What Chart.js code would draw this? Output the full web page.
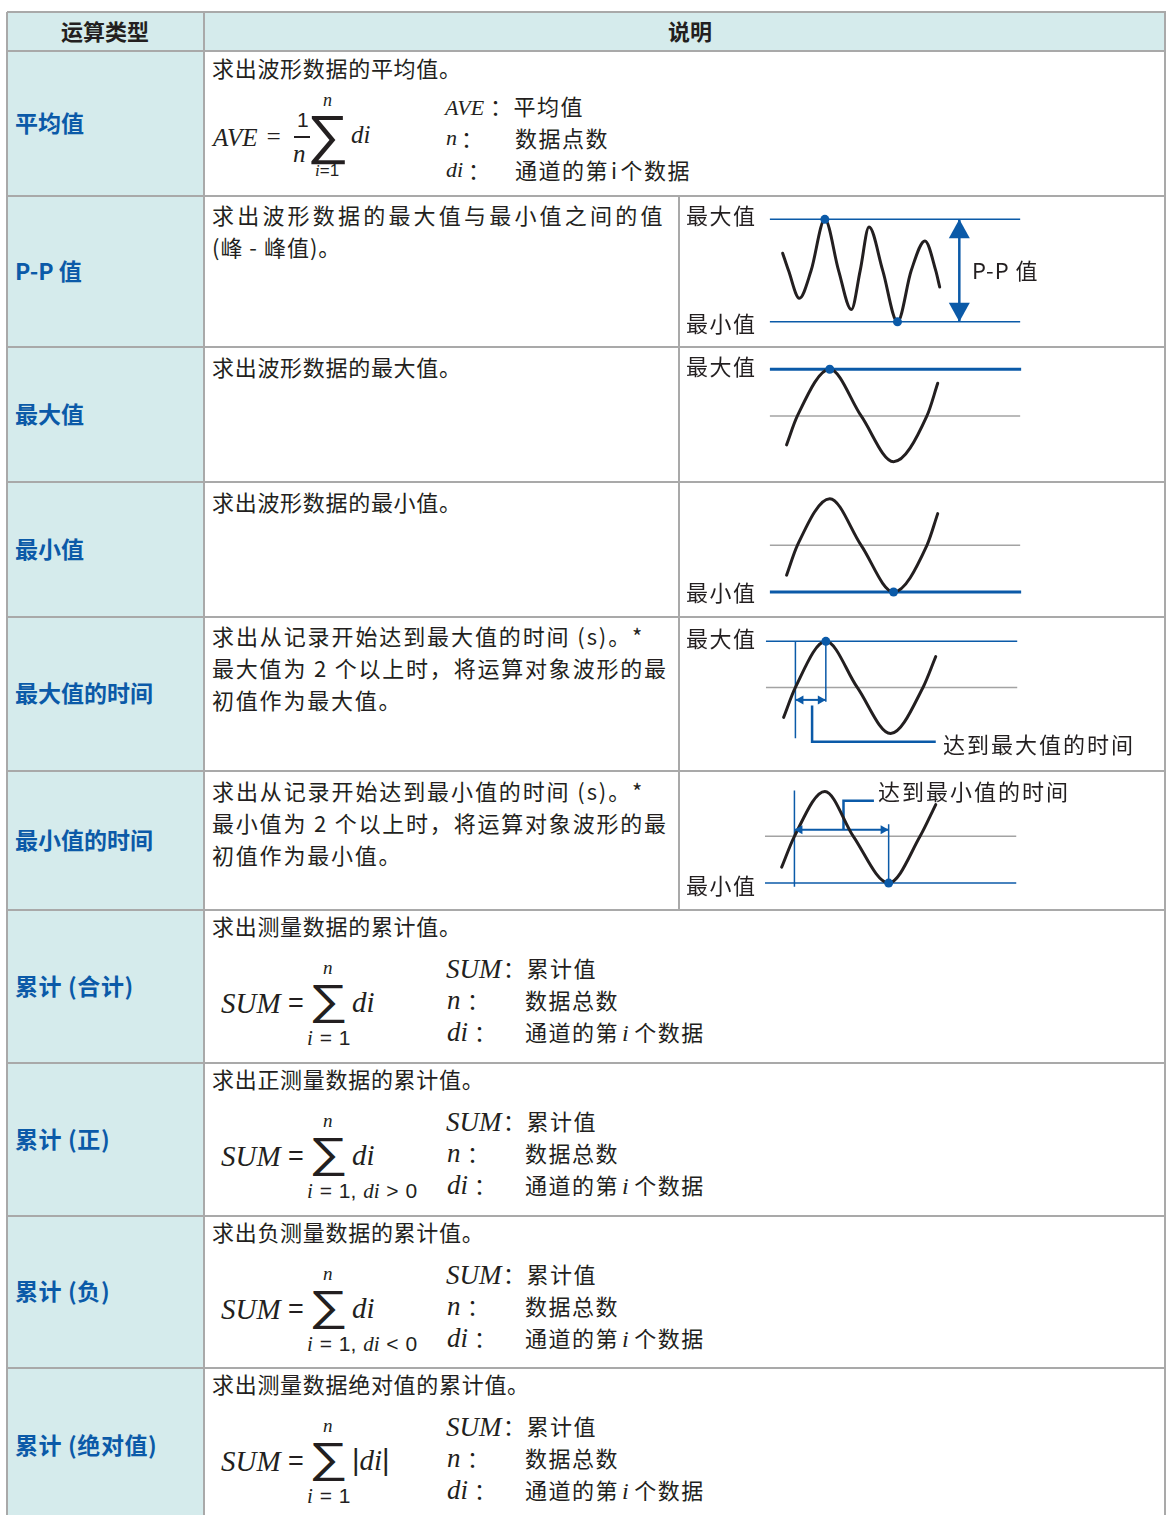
<!DOCTYPE html>
<html>
<head>
<meta charset="utf-8">
<script src="https://cdn.jsdelivr.net/npm/chart.js@4/dist/chart.umd.min.js"></script>
<style>
body{margin:0;background:#fff;}
#page{position:relative;width:1166px;height:1515px;overflow:hidden;font-family:"Noto Sans CJK SC",sans-serif;color:#231f20;background:#fff;}
.t{position:absolute;white-space:nowrap;}
.hl{position:absolute;height:2px;background:#a9a9a9;}
.vl{position:absolute;width:2px;background:#a9a9a9;}
.bg{position:absolute;background:#d5ebec;}
.m{font-family:"Liberation Serif",serif;font-style:italic;}
.s{font-family:"Liberation Sans",sans-serif;font-style:normal;}
canvas{position:absolute;}
</style>
</head>
<body>
<div id="page"></div>
<script>
// ---- data ----
const rowNames = ['平均值', 'P-P 值', '最大值', '最小值', '最大值的时间', '最小值的时间',
                  '累计 (合计)', '累计 (正)', '累计 (负)', '累计 (绝对值)'];
const headers = ['运算类型', '说明'];
const sumDesc = ['求出测量数据的累计值。', '求出正测量数据的累计值。', '求出负测量数据的累计值。', '求出测量数据绝对值的累计值。'];
const sumLower = ['<i class="m">i</i> = 1', '<i class="m">i</i> = 1, <i class="m">di</i> &gt; 0',
                  '<i class="m">i</i> = 1, <i class="m">di</i> &lt; 0', '<i class="m">i</i> = 1'];

// waveforms: time offset / amplitude (+1 = max level, -1 = min level)
const ppT = [100, 106, 117, 129, 143, 157, 170, 179, 188, 202, 217, 231, 245, 256, 260];
const ppA = [0.34, 0, -0.54, 0, 1, 0, -0.76, 0, 0.85, 0, -1, 0, 0.58, 0, -0.32];
const maxT = [104, 115, 148, 180, 213, 247, 258];
const maxA = [-0.62, 0, 1, 0, -0.98, 0, 0.7];
const minT = [104, 115, 148, 180, 213, 247, 258];
const minA = [-0.64, 0, 1, 0, -1, 0, 0.68];
const tmaxT = [101, 113, 144, 176, 210, 243, 256];
const tmaxA = [-0.65, 0, 1, 0, -1, 0, 0.67];
const tminT = [99, 112, 143, 172, 208, 240, 256];
const tminA = [-0.66, 0, 0.96, 0, -1, 0, 0.68];

// ---- layout ----
const page = document.getElementById('page');
const rowY = [12, 51, 196, 347, 482, 617, 771, 910, 1063, 1216, 1368, 1524];
const BLUE = '#0b5aa8', INK = '#231f20', GRAY = '#a3a3a3';

function box(cls, x, y, w, h) {
  const d = document.createElement('div');
  d.className = cls;
  Object.assign(d.style, {left: x + 'px', top: y + 'px', width: w + 'px', height: h + 'px'});
  page.appendChild(d);
  return d;
}
function put(x, yc, html, o = {}) {
  const d = document.createElement('div');
  const size = o.size || 22;
  d.className = 't' + (o.cls ? ' ' + o.cls : '');
  const shift = o.cls ? 0 : 1.5;   // CJK glyphs sit a little low in their box
  d.style.left = x + 'px';
  d.style.top = (yc - size * 0.75 - shift) + 'px';
  d.style.fontSize = size + 'px';
  d.style.lineHeight = (o.lh || size * 1.5) + 'px';
  if (o.lh) d.style.top = (yc - o.lh / 2 - shift) + 'px';
  if (o.ls) d.style.letterSpacing = o.ls + 'px';
  if (o.ws) d.style.wordSpacing = o.ws + 'px';
  if (o.bold) d.style.fontWeight = 'bold';
  if (o.color) d.style.color = o.color;
  if (o.sx) { d.style.transform = 'scaleX(' + o.sx + ')'; d.style.transformOrigin = 'left center'; }
  d.innerHTML = html;
  page.appendChild(d);
  return d;
}

// backgrounds
box('bg', 8, 12, 197, 1515 - 12);
box('bg', 204, 12, 962, 39);
// grid
rowY.slice(0, -1).forEach(y => box('hl', 7, y - 1, 1159, 2));
box('vl', 6, 12, 2, 1503);
box('vl', 203, 12, 2, 1503);
box('vl', 1164, 12, 2, 1503);
box('vl', 678, 196, 2, 714);

// header
put(105 - 44, 32, headers[0], {bold: true});
put(690 - 22, 32, headers[1], {bold: true});
// row labels
rowNames.forEach((n, i) => {
  const yc = i < 9 ? (rowY[i + 1] + rowY[i + 2]) / 2 : 1446;
  put(15, yc, n, {bold: true, color: BLUE, size: 23, ls: i > 5 ? 0.6 : 0});
});

// ---- texts ----
const LS = 1.5;
put(212, 69, '求出波形数据的平均值。', {ls: 0.7});
put(213, 138, 'AVE', {cls: 'm', size: 25});
put(265, 137, '=', {cls: 'm', size: 25});
put(297, 120, '1', {size: 21, cls: 's'});
box('', 294, 136, 16, 1.6).style.cssText += 'position:absolute;background:#231f20;';
put(293, 154, 'n', {cls: 'm', size: 25});
put(307, 134, '&sum;', {size: 54, cls: 's', sx: 1.08, lh: 44});
put(323, 100, 'n', {cls: 'm', size: 18, lh: 12});
put(315, 171, '<i class="m">i</i>=1', {size: 17, cls: 's', lh: 16});
put(351, 135, 'di', {cls: 'm', size: 25});
put(445, 107, 'AVE', {cls: 'm', size: 22});
put(490, 107, '：平均值', {ls: LS});
put(446, 137, 'n', {cls: 'm', size: 22});
put(461, 139, '：', {});
put(515, 139, '数据点数', {ls: LS});
put(446, 169, 'di', {cls: 'm', size: 22});
put(468, 171, '：', {});
put(515, 171, '通道的第<span style="margin:0 2px">i</span>个数据', {ls: LS});

put(212, 216, '求出波形数据的最大值与最小值之间的值', {ls: 3.2});
put(212, 248, '(峰 - 峰值)。', {ls: 1});
put(212, 368, '求出波形数据的最大值。', {ls: 0.7});
put(212, 503, '求出波形数据的最小值。', {ls: 0.7});
put(212, 637, '求出从记录开始达到最大值的时间 (s)。*', {ls: 1.9});
put(212, 669, '最大值为 2 个以上时，将运算对象波形的最', {ls: 1.8});
put(212, 701, '初值作为最大值。', {ls: 1.8});
put(212, 792, '求出从记录开始达到最小值的时间 (s)。*', {ls: 1.9});
put(212, 824, '最小值为 2 个以上时，将运算对象波形的最', {ls: 1.8});
put(212, 856, '初值作为最小值。', {ls: 1.8});

sumDesc.forEach((d, k) => {
  const o = rowY[7 + k] - 910;
  put(212, 927 + o, d, {ls: 0.7});
  put(221, 1004 + o, 'SUM', {cls: 'm', size: 29});
  put(288, 1003 + o, '=', {cls: 's', size: 27});
  put(309, 1000 + o, '&sum;', {cls: 's', size: 42, sx: 1.3, lh: 36});
  put(323, 968 + o, 'n', {cls: 'm', size: 19, lh: 14});
  put(307, 1038 + o, sumLower[k], {cls: 's', size: 21, ws: 1, lh: 18});
  put(352, 1003 + o, k === 3 ? '|<i class="m">di</i>|' : 'di', {cls: k === 3 ? 's' : 'm', size: 29});
  put(446, 969 + o, 'SUM', {cls: 'm', size: 27});
  put(503, 969 + o, '：累计值', {ls: LS});
  put(447, 1000 + o, 'n', {cls: 'm', size: 27});
  put(467, 1001 + o, '：', {});
  put(525, 1001 + o, '数据总数', {ls: LS});
  put(447, 1032 + o, 'di', {cls: 'm', size: 27});
  put(474, 1033 + o, '：', {});
  put(525, 1033 + o, '通道的第<i class="m" style="font-size:24px;margin:0 4px 0 3px">i</i>个数据', {ls: LS});
});

// ---- waveform diagrams ----
const arrowPlugin = {
  id: 'arrows',
  afterDatasetsDraw(chart) {
    const ctx = chart.ctx;
    chart.data.datasets.forEach((ds, i) => {
      if (!ds.arrowHead) return;
      const pts = chart.getDatasetMeta(i).data;
      const [len, wid] = ds.arrowHead;
      ctx.save();
      ctx.fillStyle = ds.borderColor;
      [[pts[0], pts[1]], [pts[pts.length - 1], pts[pts.length - 2]]].forEach(([tip, from]) => {
        const a = Math.atan2(tip.y - from.y, tip.x - from.x);
        const bx = tip.x - len * Math.cos(a), by = tip.y - len * Math.sin(a);
        ctx.beginPath();
        ctx.moveTo(tip.x, tip.y);
        ctx.lineTo(bx + wid / 2 * Math.sin(a), by - wid / 2 * Math.cos(a));
        ctx.lineTo(bx - wid / 2 * Math.sin(a), by + wid / 2 * Math.cos(a));
        ctx.closePath();
        ctx.fill();
      });
      ctx.restore();
    });
  }
};

const pts = (ts, as) => ts.map((t, i) => ({x: t, y: as[i]}));
const seg = (data, color, width, order, extra) =>
  Object.assign({data, borderColor: color, borderWidth: width, pointRadius: 0, tension: 0, clip: false, order}, extra || {});
const wave = (ts, as) => ({data: pts(ts, as), borderColor: INK, borderWidth: 3, pointRadius: 0,
  cubicInterpolationMode: 'monotone', clip: false, order: 1, borderCapStyle: 'round'});
const dot = (t, a) => ({type: 'scatter', data: [{x: t, y: a}], pointRadius: 4.5, backgroundColor: BLUE,
  borderWidth: 0, clip: false, order: 0});

function diagram(top, height, yPlus, yMinus, datasets) {
  const cv = document.createElement('canvas');
  cv.width = 486; cv.height = height;
  cv.style.left = '680px'; cv.style.top = top + 'px';
  page.appendChild(cv);
  const amp = (yMinus - yPlus) / 2, mid = (yPlus + yMinus) / 2;
  new Chart(cv, {
    type: 'line',
    data: {datasets},
    options: {
      responsive: false, animation: false, events: [],
      layout: {padding: 0},
      plugins: {legend: {display: false}, tooltip: {enabled: false}},
      scales: {
        x: {type: 'linear', display: false, min: 0, max: 486},
        y: {display: false, min: -(top + height - mid) / amp, max: (mid - top) / amp}
      }
    },
    plugins: [arrowPlugin]
  });
}

// P-P
diagram(197, 150, 216, 325, [
  dot(143, 1), dot(217, -1),
  wave(ppT, ppA),
  seg(pts([87, 342], [1, 1]), BLUE, 1.5, 2),
  seg(pts([87, 342], [-1, -1]), BLUE, 1.5, 2),
  seg(pts([280, 280], [1, -1]), BLUE, 2.5, 2, {arrowHead: [19, 21]})
]);
// max
diagram(348, 134, 366, 466, [
  dot(148, 1),
  wave(maxT, maxA),
  seg(pts([87, 343], [1, 1]), BLUE, 3, 2),
  seg(pts([87, 342], [0, 0]), GRAY, 1.5, 3)
]);
// min
diagram(483, 134, 495, 595, [
  dot(213, -1),
  wave(minT, minA),
  seg(pts([87, 343], [-1, -1]), BLUE, 3, 2),
  seg(pts([87, 342], [0, 0]), GRAY, 1.5, 3)
]);
// time to max
diagram(618, 153, 638, 736, [
  dot(144, 1),
  wave(tmaxT, tmaxA),
  seg(pts([83, 339], [1, 1]), BLUE, 1.5, 2),
  seg(pts([83, 339], [0, 0]), GRAY, 1.5, 3),
  seg(pts([113, 113], [1, -1.1]), BLUE, 1.5, 2),
  seg(pts([144, 144], [1, -0.31]), BLUE, 1.5, 2),
  seg(pts([113, 144], [-0.27, -0.27]), BLUE, 2, 2, {arrowHead: [8, 9]}),
  seg(pts([130, 130, 256], [-0.39, -1.18, -1.18]), BLUE, 2.5, 2)
]);
// time to min
diagram(772, 138, 786, 886, [
  dot(208, -1),
  wave(tminT, tminA),
  seg(pts([82, 338], [-1, -1]), BLUE, 1.5, 2),
  seg(pts([82, 338], [0, 0]), GRAY, 1.5, 3),
  seg(pts([112, 112], [0.98, -1.08]), BLUE, 1.5, 2),
  seg(pts([208, 208], [0.26, -1]), BLUE, 1.5, 2),
  seg(pts([112, 208], [0.14, 0.14]), BLUE, 2, 2, {arrowHead: [8, 9]}),
  seg(pts([162, 162, 193], [0.14, 0.76, 0.76]), BLUE, 2.5, 2)
]);

// diagram labels
put(686, 216, '最大值', {ls: LS});
put(686, 324, '最小值', {ls: LS});
put(972, 271, 'P-P 值', {ls: 1});
put(686, 367, '最大值', {ls: LS});
put(686, 593, '最小值', {ls: LS});
put(686, 639, '最大值', {ls: LS});
put(943, 745, '达到最大值的时间', {ls: 2});
put(686, 886, '最小值', {ls: LS});
put(878, 792, '达到最小值的时间', {ls: 2});
</script>
</body>
</html>
